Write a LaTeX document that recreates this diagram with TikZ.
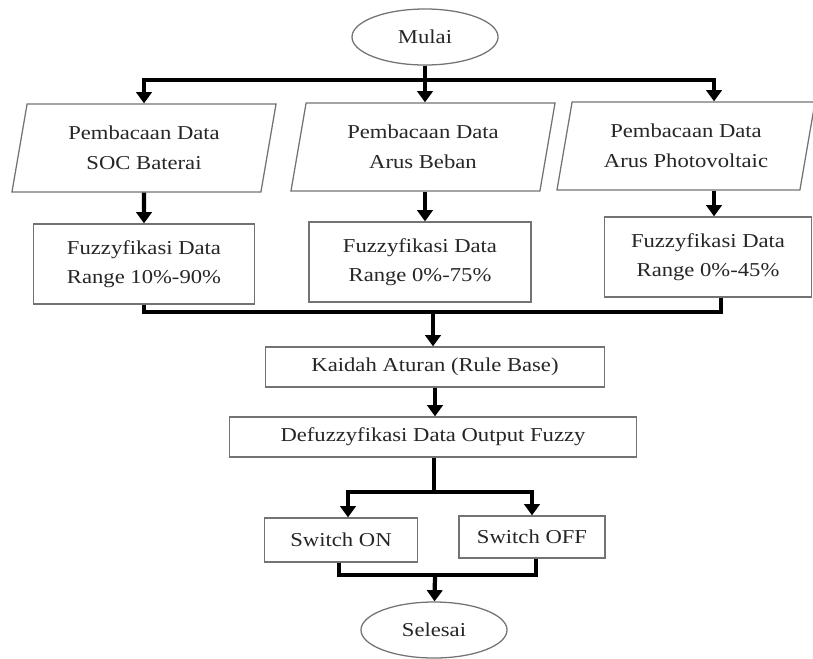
\documentclass[tikz,border=0pt]{standalone}
\usepackage{fontspec}
\setmainfont{Liberation Serif}[FakeStretch=1.15]
\usetikzlibrary{arrows.meta, positioning, shapes.geometric}

\begin{document}
\begin{tikzpicture}[
        x={(0.025cm,0)}, y={(0,-0.025cm)},
        txt/.style={font=\fontsize{14}{21}\selectfont, text=black!85, align=center},
        block/.style={rectangle, draw=black!55, line width=0.9pt, txt},
        io/.style={trapezium, trapezium left angle=74, trapezium right angle=106,
                   trapezium stretches body, draw=black!55, line width=0.9pt,
                   minimum width=6.6cm, minimum height=2.2cm, txt},
        term/.style={ellipse, draw=black!55, line width=0.9pt,
                     minimum width=3.65cm, minimum height=1.4cm, txt},
        line/.style={line width=3pt},
        arrow/.style={line, -{Triangle[length=8pt, width=11pt]}},
    ]
        \useasboundingbox (0,0) rectangle (813,658);

        \node[term] (mulai) at (425,37) {Mulai};
        \node[io] (baca1) at (144,148) {Pembacaan Data\\SOC Baterai};
        \node[io] (baca2) at (423,147) {Pembacaan Data\\Arus Beban};
        \node[io, minimum width=6.45cm] (baca3) at (686,146) {Pembacaan Data\\Arus Photovoltaic};
        \node[block, minimum width=5.525cm, minimum height=2cm] (fuzz1) at (144,264) {Fuzzyfikasi Data\\Range 10\%-90\%};
        \node[block, minimum width=5.55cm, minimum height=2cm] (fuzz2) at (420,262) {Fuzzyfikasi Data\\Range 0\%-75\%};
        \node[block, minimum width=5.175cm, minimum height=2cm] (fuzz3) at (708,257) {Fuzzyfikasi Data\\Range 0\%-45\%};
        \node[block, minimum width=8.475cm, minimum height=1cm] (kaidah) at (435,367) {Kaidah Aturan (Rule Base)};
        \node[block, minimum width=10.175cm, minimum height=1cm] (defuzz) at (433,437) {Defuzzyfikasi Data Output Fuzzy};
        \node[block, minimum width=3.825cm, minimum height=1.1cm] (swon) at (341,540) {Switch ON};
        \node[block, minimum width=3.65cm, minimum height=1.05cm] (swoff) at (532,537) {Switch OFF};
        \node[term] (selesai) at (434,630) {Selesai};

        \coordinate (split1) at (425,80);
        \coordinate (join1) at (433,312);
        \coordinate (split2) at (434,492);
        \coordinate (join2) at (435,575);

        \draw[line] (mulai) -- (split1);
        \draw[arrow] (split1) -| (baca1);
        \draw[arrow] (split1) -- (split1 |- baca2.north);
        \draw[arrow] (split1) -| ([xshift=0.7cm]baca3.north);

        \draw[arrow] (baca1) -- (fuzz1);
        \draw[arrow] (baca2.south -| split1) -- (fuzz2.north -| split1);
        \draw[arrow] ([xshift=0.7cm]baca3.south) -- ([xshift=0.7cm]baca3.south |- fuzz3.north);

        \draw[line] (fuzz1.south) |- (join1);
        \draw[line] ([xshift=0.325cm]fuzz3.south) |- (join1);
        \draw[arrow] (join1) -- (join1 |- kaidah.north);
        \draw[arrow] (kaidah.south) -- (kaidah.south |- defuzz.north);

        \draw[line] (defuzz.south -| split2) -- (split2);
        \draw[arrow] (split2) -| ([xshift=0.175cm]swon.north);
        \draw[arrow] (split2) -| (swoff);

        \draw[line] ([xshift=-0.05cm]swon.south) |- (join2);
        \draw[line] ([xshift=0.1cm]swoff.south) |- (join2);
        \draw[arrow] (join2) -- (selesai);
    \end{tikzpicture}
\end{document}
